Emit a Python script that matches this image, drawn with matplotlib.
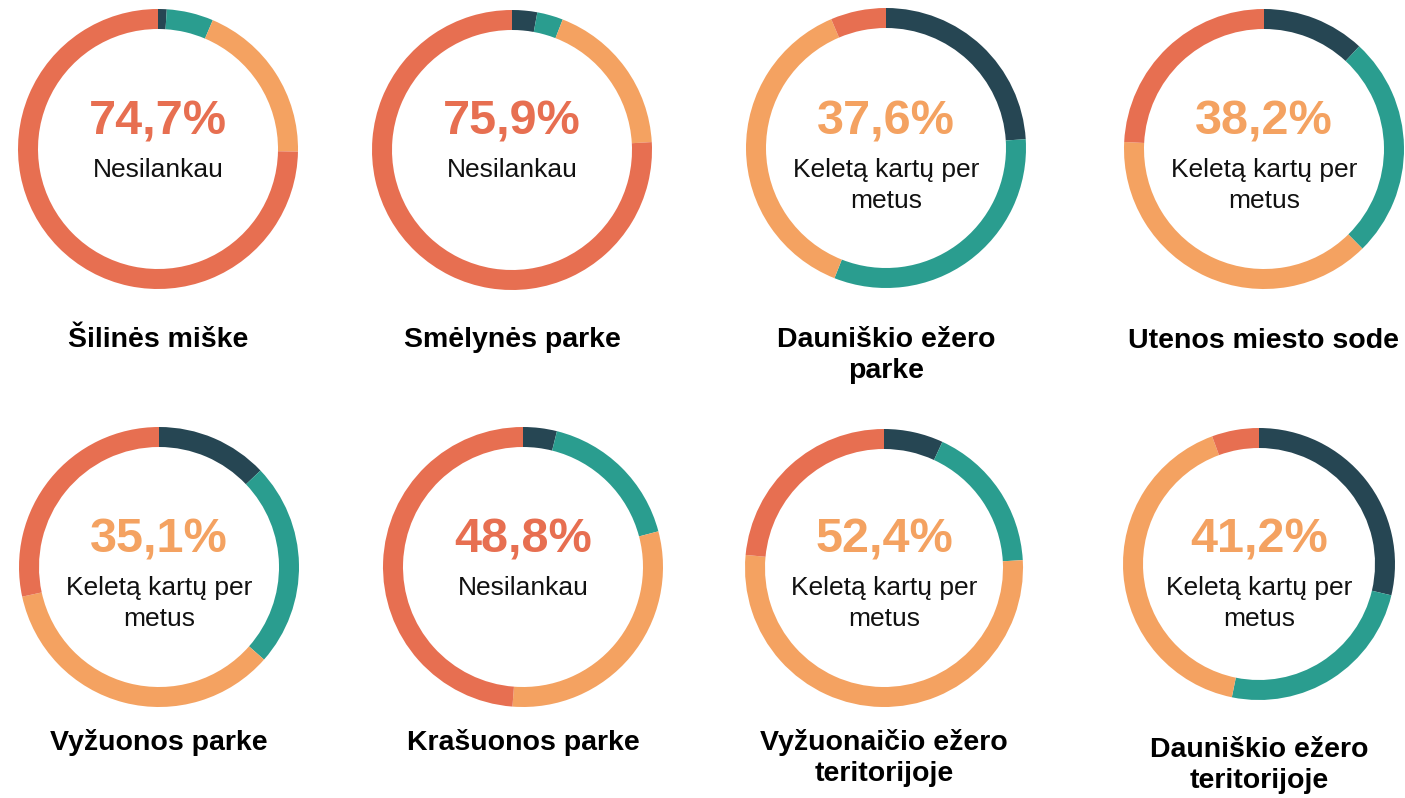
import matplotlib.pyplot as plt

plt.rcParams["font.family"] = ["Liberation Sans", "DejaVu Sans"]

# data: share of answers (%) for each place
places = [
    "Šilinės miške",
    "Smėlynės parke",
    "Dauniškio ežero\nparke",
    "Utenos miesto sode",
    "Vyžuonos parke",
    "Krašuonos parke",
    "Vyžuonaičio ežero\nteritorijoje",
    "Dauniškio ežero\nteritorijoje",
]
categories = ["Kasdien", "Kelis kartus per mėnesį", "Keletą kartų per\nmetus", "Nesilankau"]
dark = [1.0, 2.9, 24.0, 11.9, 12.9, 3.9, 6.9, 28.7]
teal = [5.4, 3.0, 32.0, 25.7, 23.6, 17.0, 17.2, 24.5]
sandy = [18.9, 18.2, 37.6, 38.2, 35.1, 30.3, 52.4, 41.2]
red = [74.7, 75.9, 6.4, 24.2, 28.4, 48.8, 23.5, 5.6]

colors = ["#264653", "#2a9d8f", "#f4a261", "#e76f51"]

W, H = 1405, 798
fig = plt.figure(figsize=(W / 100, H / 100), dpi=100)

# layout in pixels (x centre, y centre, radius, title baseline)
layout = [
    (158, 149, 140, 347),
    (512, 150, 140, 347),
    (886, 148, 140, 347),
    (1264, 149, 140, 348),
    (159, 567, 140, 750),
    (523, 567, 140, 750),
    (884, 568, 139, 750),
    (1259, 564, 136, 757),
]


def fx(x):
    return x / W


def fy(y):
    return 1 - y / H


for i, name in enumerate(places):
    cx, cy, r, ty = layout[i]
    vals = [dark[i], teal[i], sandy[i], red[i]]
    ax = fig.add_axes([fx(cx - r), fy(cy + r), 2 * r / W, 2 * r / H])
    ax.pie(vals, colors=colors, startangle=90, counterclock=False,
           wedgeprops=dict(width=20 / r, edgecolor="none", linewidth=0))
    ax.set_xlim(-1, 1)
    ax.set_ylim(-1, 1)
    ax.set_aspect("equal")
    ax.axis("off")

    k = vals.index(max(vals))
    row_c = 149 if i < 4 else 567
    pct = f"{vals[k]:.1f}%".replace(".", ",")
    fig.text(fx(cx), fy(row_c - 14), pct, ha="center", va="baseline",
             fontsize=35, fontweight="bold", color=colors[k])
    for j, line in enumerate(categories[k].split("\n")):
        fig.text(fx(cx), fy(row_c + 28 + 31 * j), line, ha="center", va="baseline",
                 fontsize=19, color="#111111")
    for j, line in enumerate(name.split("\n")):
        fig.text(fx(cx), fy(ty + 31 * j), line, ha="center", va="baseline",
                 fontsize=20.5, fontweight="bold", color="black")

fig.savefig("out.png", dpi=100, facecolor="white")
